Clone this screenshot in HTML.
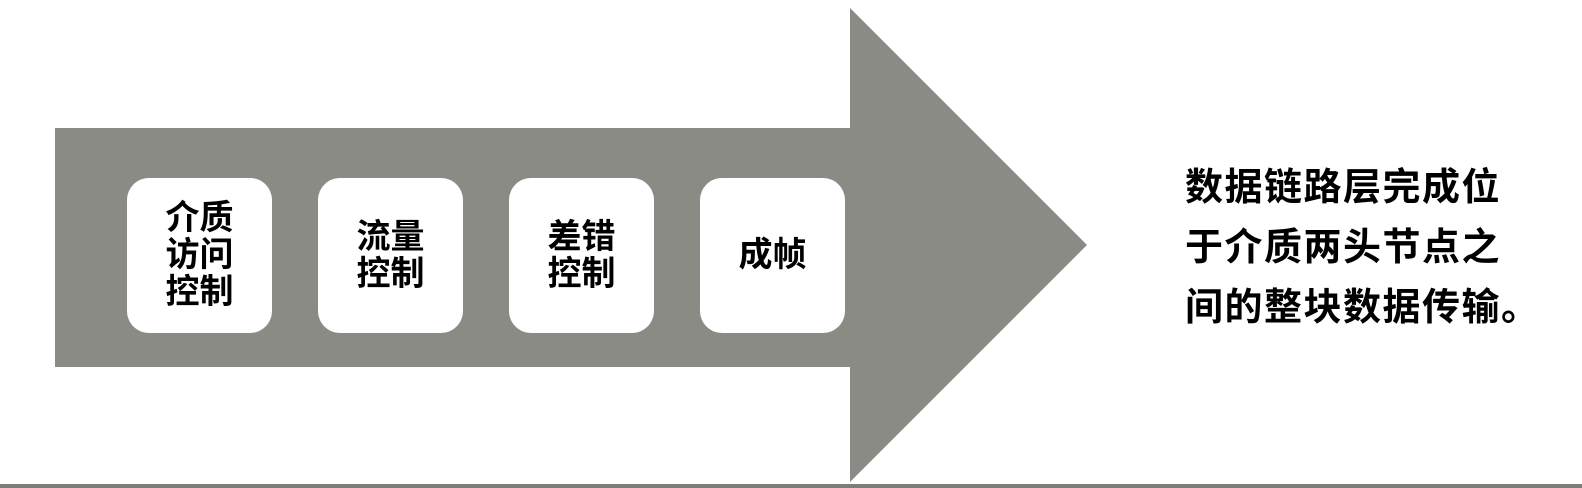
<!DOCTYPE html>
<html><head><meta charset="utf-8"><style>
body{margin:0;width:1582px;height:488px;background:#fff;position:relative;overflow:hidden;font-family:"Liberation Sans","Noto Sans CJK SC",sans-serif}
.b{position:absolute;top:178px;width:145px;height:155px;background:#fff;border-radius:22px;display:flex;align-items:center;justify-content:center;text-align:center;font-weight:bold;font-size:34px;line-height:37px;color:#000}
.t{position:absolute;left:1185px;top:158px;font-weight:bold;font-size:38px;line-height:60px;color:#000;letter-spacing:1.5px}
</style></head><body>
<svg width="1582" height="488" style="position:absolute;left:0;top:0">
<polygon points="55,128 850,128 850,8 1087,245 850,482 850,367 55,367" fill="#8a8b84"/>
<rect x="0" y="484" width="1582" height="4" fill="#7d7e75"/>
</svg>
<div class="b" style="left:127px">介质<br>访问<br>控制</div>
<div class="b" style="left:318px">流量<br>控制</div>
<div class="b" style="left:509px">差错<br>控制</div>
<div class="b" style="left:700px">成帧</div>
<div class="t">数据链路层完成位<br>于介质两头节点之<br>间的整块数据传输。</div>
</body></html>
